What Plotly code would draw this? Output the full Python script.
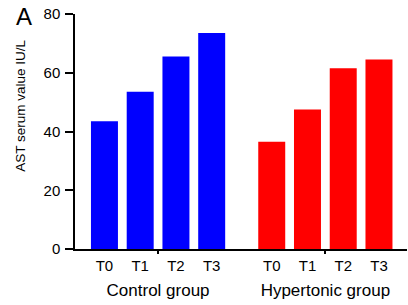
import plotly.graph_objects as go

categories = ["T0", "T1", "T2", "T3"]
groups = ["Control group", "Hypertonic group"]
control_values = [43.5, 53.5, 65.5, 73.5]
hypertonic_values = [36.5, 47.5, 61.5, 64.5]
y_ticks = [0, 20, 40, 60, 80]
y_title = "AST serum value IU/L"
panel_label = "A"

n = len(categories)
gap = 1.68
ctrl_x = [i for i in range(n)]
hyp_x = [i + n - 1 + gap for i in range(n)]
group_centers = [sum(ctrl_x) / n, sum(hyp_x) / n]

FONT = "Liberation Sans, Arial, Helvetica, sans-serif"

fig = go.Figure()
fig.add_trace(go.Bar(x=ctrl_x, y=control_values, width=0.755,
                     marker=dict(color="#0000ff", line=dict(width=0)), showlegend=False))
fig.add_trace(go.Bar(x=hyp_x, y=hypertonic_values, width=0.755,
                     marker=dict(color="#ff0000", line=dict(width=0)), showlegend=False))
fig.add_trace(go.Scatter(x=group_centers, y=[None, None], xaxis="x2", showlegend=False,
                         mode="markers", hoverinfo="skip"))

xr = [-0.824, 8.464]
fig.update_layout(
    width=408, height=305,
    margin=dict(l=75, r=1, t=14, b=56, autoexpand=False),
    paper_bgcolor="white", plot_bgcolor="white",
    font=dict(family=FONT, color="black"),
    xaxis=dict(range=xr, tickvals=ctrl_x + hyp_x, ticktext=categories + categories,
               ticks="", showline=True, linecolor="black", linewidth=1.5,
               showgrid=False, zeroline=False, tickfont=dict(size=15),
               automargin=False, ticklabelstandoff=2),
    xaxis2=dict(range=xr, overlaying="x", side="bottom", anchor="y",
                tickvals=group_centers, ticktext=groups, ticks="outside",
                ticklen=4, tickwidth=1.5, tickcolor="black", showline=False,
                showgrid=False, zeroline=False, tickfont=dict(size=17),
                ticklabelstandoff=22, automargin=False),
    yaxis=dict(range=[0, 80], tickvals=y_ticks, ticks="outside", ticklen=8,
               tickwidth=1.5, tickcolor="black", showline=True, linecolor="black",
               linewidth=1.5, showgrid=False, zeroline=False, tickfont=dict(size=15),
               automargin=False, ticklabelstandoff=2),
    annotations=[
        dict(text=y_title, textangle=-90, xref="paper", yref="paper",
             x=(21 - 75) / 332, y=(249.5 - 106) / 235.5, xanchor="center", yanchor="middle",
             showarrow=False, font=dict(size=13.5)),
        dict(text=panel_label, xref="paper", yref="paper",
             x=(24 - 75) / 332, y=(249.5 - 17) / 235.5, xanchor="center", yanchor="middle",
             showarrow=False, font=dict(size=24)),
    ],
)
fig.write_html("out.html", config={"displayModeBar": False},
               post_script="document.body.style.margin='0';document.body.style.overflow='hidden';")
